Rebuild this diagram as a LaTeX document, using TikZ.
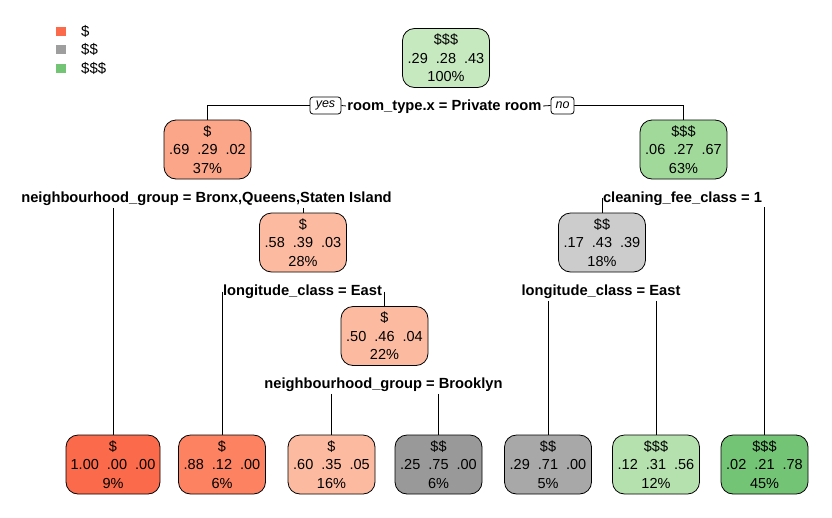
\documentclass[tikz,border=0pt]{standalone}
\usepackage{fontspec}
\setmainfont{Liberation Sans}
\usetikzlibrary{backgrounds}
\definecolor{rA}{HTML}{FB6A4A}
\definecolor{rB}{HTML}{FC8262}
\definecolor{rC}{HTML}{FCA689}
\definecolor{rD}{HTML}{FCBBA1}
\definecolor{gA}{HTML}{999999}
\definecolor{gB}{HTML}{A8A8A8}
\definecolor{gC}{HTML}{CCCCCC}
\definecolor{eA}{HTML}{74C476}
\definecolor{eB}{HTML}{A1D99B}
\definecolor{eC}{HTML}{B5E1AE}
\definecolor{eD}{HTML}{C7E9C0}
\definecolor{legR}{HTML}{FB6A4A}
\definecolor{legG}{HTML}{9E9E9E}
\definecolor{legE}{HTML}{74C476}
\newcommand\boxfnt{\fontsize{14.5}{18.5}\selectfont}
\newcommand\labfnt{\fontsize{14.7}{17}\selectfont\bfseries}
\tikzset{
  box/.style={draw=black, line width=0.8pt, rounded corners=12pt, minimum width=87pt,
    minimum height=59pt, inner sep=0pt, align=center, font=\boxfnt},
  splitlab/.style={font=\labfnt, inner xsep=1pt, inner ysep=3pt, text height=10.5pt, text depth=2pt},
  yn/.style={draw=black, line width=0.8pt, rounded corners=3pt, fill=white, inner sep=0pt,
    minimum height=17pt, font=\fontsize{12.5}{14}\selectfont\itshape},
  conn/.style={draw=black, line width=0.8pt},
  legsq/.style={minimum width=10pt, minimum height=9pt, inner sep=0pt},
  legtxt/.style={anchor=west, inner sep=0pt, font=\fontsize{15}{17}\selectfont}
}
\begin{document}
\begin{tikzpicture}[x=1pt,y=-1pt]
\useasboundingbox (0,0) rectangle (832,517);
% legend
\node[legsq, fill=legR] (k1) at (61,31) {};
\node[legsq, fill=legG] (k2) at (61,49.5) {};
\node[legsq, fill=legE] (k3) at (61,68.5) {};
\node[legtxt] (t1) at (81,31) {\$};
\node[legtxt] (t2) at (81,49.5) {\$\$};
\node[legtxt] (t3) at (81,68.5) {\$\$\$};
% inner nodes
\node[box, fill=eD] (root) at (446,58) {\$\$\$\\.29\ \ .28\ \ .43\\100\%};
\node[box, fill=rC] (n2) at (207.5,149.5) {\$\\.69\ \ .29\ \ .02\\37\%};
\node[box, fill=eB] (n3) at (683.5,149.5) {\$\$\$\\.06\ \ .27\ \ .67\\63\%};
\node[box, fill=rD] (n4) at (303,242.5) {\$\\.58\ \ .39\ \ .03\\28\%};
\node[box, fill=rD] (n5) at (384.5,336) {\$\\.50\ \ .46\ \ .04\\22\%};
\node[box, fill=gC] (n6) at (602,242.5) {\$\$\\.17\ \ .43\ \ .39\\18\%};
% leaves
\node[box, fill=rA, minimum width=94pt] (l1) at (113,464.5) {\$\\1.00\ \ .00\ \ .00\\9\%};
\node[box, fill=rB] (l2) at (222,464.5) {\$\\.88\ \ .12\ \ .00\\6\%};
\node[box, fill=rD] (l3) at (331.5,464.5) {\$\\.60\ \ .35\ \ .05\\16\%};
\node[box, fill=gA] (l4) at (438.5,464.5) {\$\$\\.25\ \ .75\ \ .00\\6\%};
\node[box, fill=gB] (l5) at (548,464.5) {\$\$\\.29\ \ .71\ \ .00\\5\%};
\node[box, fill=eC] (l6) at (656,464.5) {\$\$\$\\.12\ \ .31\ \ .56\\12\%};
\node[box, fill=eA] (l7) at (764.5,464.5) {\$\$\$\\.02\ \ .21\ \ .78\\45\%};
% split labels
\node[splitlab, fill=white] (lab1) at (444.5,106) {room\_type.x = Private room};
\node[splitlab] (lab2) at (206.5,198.5) {neighbourhood\_group = Bronx,Queens,Staten Island};
\node[splitlab] (lab3) at (682.5,198) {cleaning\_fee\_class = 1};
\node[splitlab] (lab4) at (302.5,291.5) {longitude\_class = East};
\node[splitlab] (lab5) at (383.5,384.5) {neighbourhood\_group = Brooklyn};
\node[splitlab] (lab6) at (601,291.5) {longitude\_class = East};
\node[yn, minimum width=31pt] (yes) at (325.5,105.5) {yes};
\node[yn, minimum width=23pt] (no) at (562.5,105.5) {no};
% connectors
\begin{scope}[on background layer]
\draw[conn] (n2.north) |- (yes.west);
\draw[conn] (yes.east) -- (lab1.west);
\draw[conn] (lab1.east) -- (no.west);
\draw[conn] (no.east) -| (n3.north);
\draw[conn] (l1.north |- lab2.south) -- (l1.north);
\draw[conn] (n4.north |- lab2.south) -- (n4.north);
\draw[conn] (l2.north |- lab4.center) -- (l2.north);
\draw[conn] (n5.north |- lab4.center) -- (n5.north);
\draw[conn] (l3.north |- lab5.south) -- (l3.north);
\draw[conn] (l4.north |- lab5.south) -- (l4.north);
\draw[conn] (n6.north |- lab3.center) -- (n6.north);
\draw[conn] (l7.north |- lab3.south) -- (l7.north);
\draw[conn] (l5.north |- lab6.south) -- (l5.north);
\draw[conn] (l6.north |- lab6.south) -- (l6.north);
\end{scope}
\end{tikzpicture}
\end{document}
